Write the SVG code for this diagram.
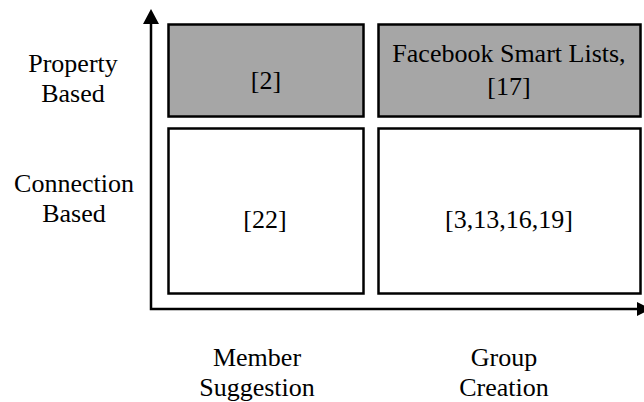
<svg xmlns="http://www.w3.org/2000/svg" width="644" height="402" viewBox="0 0 644 402">
  <style>
    .t { font-family: "Liberation Serif", "Times New Roman", serif; font-size: 26px; fill: #000; text-anchor: middle; }
    .box { stroke: #000; stroke-width: 2.5; }
    .gray { fill: #a6a6a6; }
    .white { fill: #fff; }
    .axis { stroke: #000; stroke-width: 2.5; fill: none; }
  </style>
  <rect width="644" height="402" fill="#fff"/>
  <g id="connectors">
    <polyline class="axis" points="151,22 151,309 638,309"/>
    <polygon points="151,9 143,24 159,24" fill="#000"/>
    <polygon points="637,302 637,316 651,309" fill="#000"/>
  </g>
  <g id="cell-property-member">
    <rect class="box gray" x="168.5" y="24.5" width="195" height="92"/>
    <text class="t" x="266" y="89">[2]</text>
  </g>
  <g id="cell-property-group">
    <rect class="box gray" x="378.5" y="24.5" width="262" height="92"/>
    <text class="t" x="509" y="62">Facebook Smart Lists,</text>
    <text class="t" x="509" y="95">[17]</text>
  </g>
  <g id="cell-connection-member">
    <rect class="box white" x="168.5" y="128.5" width="195" height="165"/>
    <text class="t" x="265" y="228">[22]</text>
  </g>
  <g id="cell-connection-group">
    <rect class="box white" x="378.5" y="128.5" width="262" height="165"/>
    <text class="t" x="509" y="228">[3,13,16,19]</text>
  </g>
  <g id="label-property">
    <text class="t" x="73" y="72">Property</text>
    <text class="t" x="73" y="102">Based</text>
  </g>
  <g id="label-connection">
    <text class="t" x="74" y="192">Connection</text>
    <text class="t" x="74" y="222">Based</text>
  </g>
  <g id="label-member">
    <text class="t" x="257" y="366">Member</text>
    <text class="t" x="257" y="396">Suggestion</text>
  </g>
  <g id="label-group">
    <text class="t" x="504" y="366">Group</text>
    <text class="t" x="504" y="396">Creation</text>
  </g>
</svg>
